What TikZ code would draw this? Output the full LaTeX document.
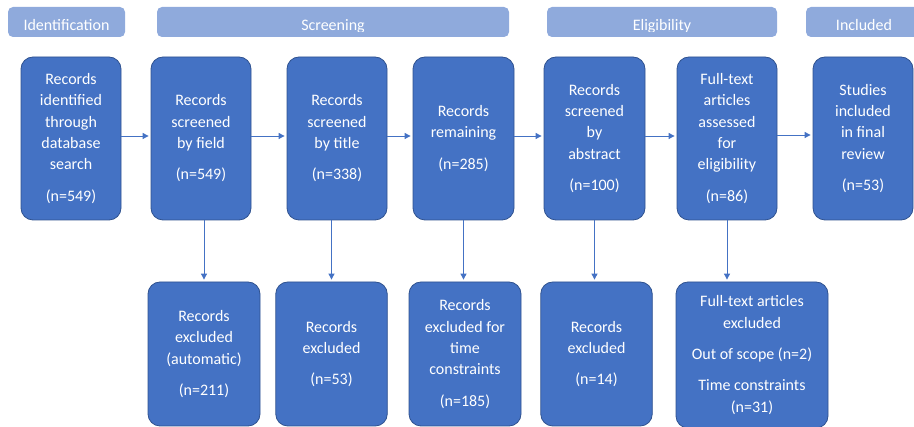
\documentclass[tikz,border=0pt]{standalone}
\usepackage{fontspec}
\setmainfont{Carlito}
\usetikzlibrary{arrows.meta,calc}
\definecolor{boxblue}{HTML}{4472C4}
\definecolor{boxedge}{HTML}{2F528F}
\definecolor{hdrblue}{HTML}{8FAADC}
\begin{document}
\begin{tikzpicture}[x=1pt,y=-1pt,
  box/.style={draw=boxedge, line width=0.8pt, fill=boxblue, rounded corners=12pt,
    text=white, align=center, inner sep=0pt,
    font=\fontsize{16pt}{21.3pt}\selectfont},
  topbox/.style={box, minimum width=100pt, minimum height=163pt},
  botbox/.style={box, minimum width=111.5pt, minimum height=144pt},
  hdr/.style={fill=hdrblue, rounded corners=5pt},
  hdrtext/.style={text=white, anchor=base, inner sep=0pt,
    font=\fontsize{16pt}{19pt}\selectfont},
  arr/.style={draw=boxblue, line width=0.9pt,
    -{Triangle[length=6pt,width=6pt]}, shorten >=2pt}]
\useasboundingbox (0,0) rectangle (914,427);

% header bars
\path[hdr] (8,7) rectangle (125,37);
\path[hdr] (157,7) rectangle (509,37);
\path[hdr] (547,7) rectangle (777,37);
\path[hdr] (806,7) rectangle (922,37);
\begin{scope}
\clip (0,0) rectangle (914,32);
\node[hdrtext] (h1) at (66.5,30.5) {Identification};
\node[hdrtext] (h2) at (333,30.5) {Screening};
\node[hdrtext] (h3) at (662,30.5) {Eligibility};
\node[hdrtext] (h4) at (864,30.5) {Included};
\end{scope}

% top row
\node[topbox] (t1) at (71,138.5) {Records\\identified\\through\\database\\search\\[10pt](n=549)};
\node[topbox] (t2) at (201,138.5) {Records\\screened\\by field\\[10pt](n=549)};
\node[topbox] (t3) at (337,138.5) {Records\\screened\\by title\\[10pt](n=338)};
\node[topbox, minimum width=101pt] (t4) at (463.5,138.5) {Records\\remaining\\[10pt](n=285)};
\node[topbox, minimum width=101pt] (t5) at (594.5,138.5) {Records\\screened\\by\\abstract\\[10pt](n=100)};
\node[topbox] (t6) at (727,138.5) {Full-text\\articles\\assessed\\for\\eligibility\\[10pt](n=86)};
\node[topbox] (t7) at (863,138.5) {Studies\\included\\in final\\review\\[10pt](n=53)};

% bottom row
\node[botbox, minimum width=112pt] (b1) at (204,354) {Records\\excluded\\(automatic)\\[10pt](n=211)};
\node[botbox] (b2) at (331.5,354) {Records\\excluded\\[10pt](n=53)};
\node[botbox, minimum width=112pt] (b3) at (465,354) {Records\\excluded for\\time\\constraints\\[10pt](n=185)};
\node[botbox] (b4) at (596.5,354) {Records\\excluded\\[10pt](n=14)};
\node[botbox, minimum width=152pt, minimum height=146pt] (b5) at (752,355) {Full-text articles\\excluded\\[10pt]Out of scope (n=2)\\[10pt]Time constraints\\(n=31)};

% horizontal arrows
\draw[arr] ([yshift=2.5pt]t1.east) -- ([yshift=2.5pt]t2.west);
\draw[arr] ([yshift=2.5pt]t2.east) -- ([yshift=2.5pt]t3.west);
\draw[arr] ([yshift=2.5pt]t3.east) -- ([yshift=2.5pt]t4.west);
\draw[arr] ([yshift=2.5pt]t4.east) -- ([yshift=2.5pt]t5.west);
\draw[arr] ([yshift=2.5pt]t5.east) -- ([yshift=2.5pt]t6.west);
\draw[arr] ([yshift=3.5pt]t6.east) -- ([yshift=3.5pt]t7.west);

% vertical arrows
\draw[arr] (t2.south -| b1.north) -- (b1.north);
\draw[arr] (t3.south -| b2.north) -- (b2.north);
\draw[arr] (t4.south) -- (t4.south |- b3.north);
\draw[arr] (t5.south) -- (t5.south |- b4.north);
\draw[arr] (t6.south) -- (t6.south |- b5.north);
\end{tikzpicture}
\end{document}
